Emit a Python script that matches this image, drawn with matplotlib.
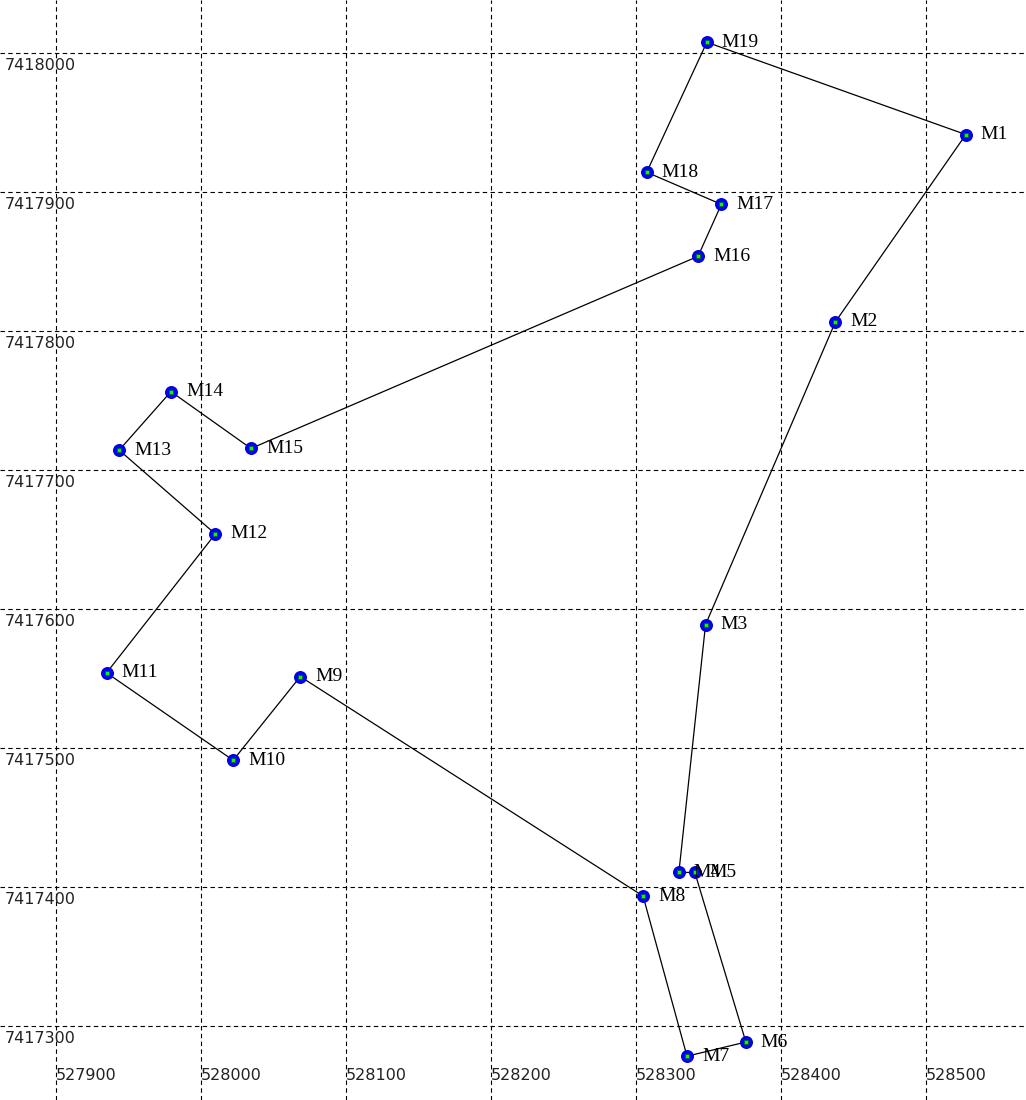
import matplotlib
matplotlib.use("Agg")
import matplotlib.pyplot as plt
from matplotlib import transforms

names = ["M1", "M2", "M3", "M4", "M5", "M6", "M7", "M8", "M9", "M10",
         "M11", "M12", "M13", "M14", "M15", "M16", "M17", "M18", "M19"]
east = [528527.5, 528437.5, 528348.0, 528329.6, 528340.6, 528375.8, 528335.2,
        528304.9, 528068.5, 528022.2, 527934.9, 528009.9, 527943.6, 527979.3,
        528034.5, 528342.8, 528358.9, 528307.4, 528348.9]
north = [7417941.3, 7417806.5, 7417588.8, 7417410.5, 7417410.5, 7417288.5,
         7417278.3, 7417393.5, 7417551.4, 7417491.2, 7417554.1, 7417654.0,
         7417714.3, 7417756.4, 7417715.5, 7417853.7, 7417891.1, 7417914.2,
         7418007.7]
x_ticks = [527900, 528000, 528100, 528200, 528300, 528400, 528500]
y_ticks = [7418000, 7417900, 7417800, 7417700, 7417600, 7417500, 7417400, 7417300]

fig = plt.figure(figsize=(10.26, 11), dpi=100)
ax = fig.add_axes([0, 0, 1, 1])
ax.set_xlim(527861.4, 528569.0)
ax.set_ylim(7417246.8, 7418038.1)
ax.axis("off")

grid_kw = dict(color="black", linewidth=0.8, linestyle=(0, (4, 3)), zorder=1)
for xv in x_ticks:
    ax.axvline(xv, **grid_kw)
for yv in y_ticks:
    ax.axhline(yv, **grid_kw)

# tick labels inside the plot
for yv in y_ticks:
    tr = transforms.blended_transform_factory(ax.transAxes, ax.transData)
    off = transforms.offset_copy(tr, fig=fig, x=5, y=-5, units="dots")
    ax.text(0, yv, str(yv), transform=off, ha="left", va="top",
            fontsize=11.5, family="DejaVu Sans", color="#222222", zorder=2)
for xv in x_ticks:
    tr = transforms.blended_transform_factory(ax.transData, ax.transAxes)
    ax.text(xv, 1 - 1076 / 1100, str(xv), transform=tr, ha="left", va="center",
            fontsize=11.5, family="DejaVu Sans", color="#222222", zorder=2)

xs = east + [east[0]]
ys = north + [north[0]]
ax.plot(xs, ys, color="black", linewidth=0.9, zorder=3)
ax.plot(east, north, linestyle="none", marker="o", markersize=8.5,
        markerfacecolor="#0000ff", markeredgecolor="#0000cc", markeredgewidth=0.8, zorder=4)
ax.plot(east, north, linestyle="none", marker="s", markersize=3.5,
        markerfacecolor="#00ff00", markeredgecolor="#006600", markeredgewidth=0.5, zorder=5)

for n, xv, yv in zip(names, east, north):
    off = transforms.offset_copy(ax.transData, fig=fig, x=15, y=0, units="dots")
    ax.text(xv, yv, n, transform=off, ha="left", va="center",
            fontsize=14, family="Liberation Serif", color="black", zorder=6)

fig.savefig("out.png", dpi=100)
